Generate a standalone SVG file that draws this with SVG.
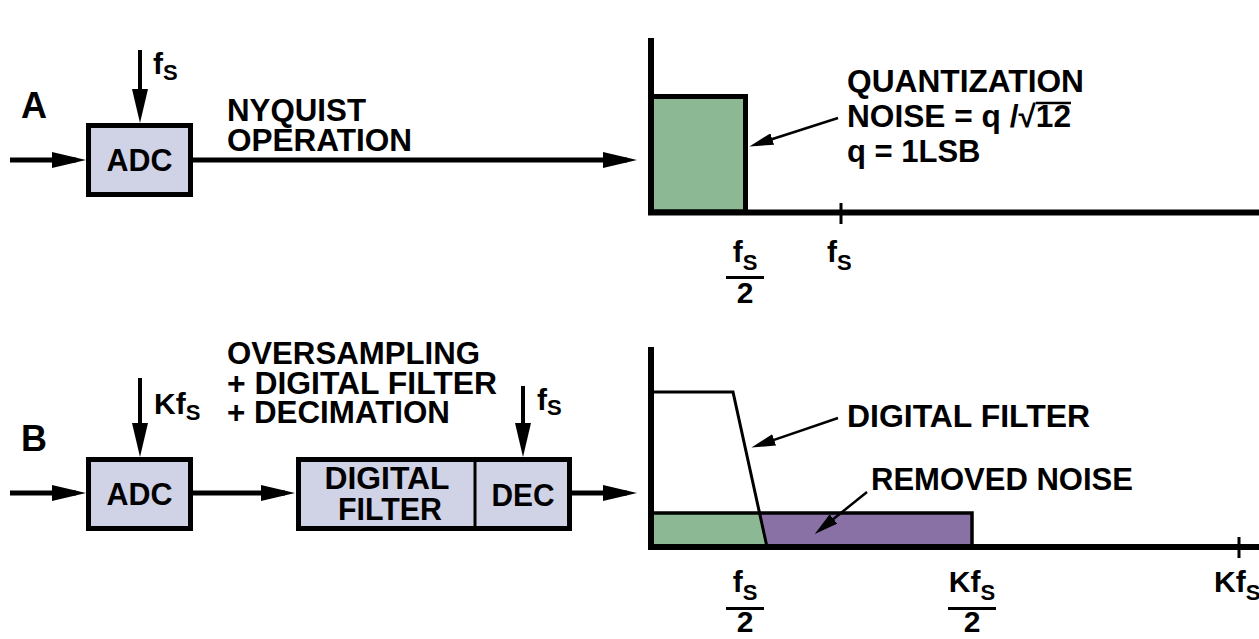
<svg xmlns="http://www.w3.org/2000/svg" width="1259" height="639" viewBox="0 0 1259 639">
  <style>
    text { font-family: "Liberation Sans", Arial, Helvetica, sans-serif; font-weight: bold; fill: #000; }
    .lbl { font-size: 31px; }
    .ax { font-size: 30px; }
    .big { font-size: 36px; }
    .sub { font-size: 22px; }
    .box { fill: #d0d2e6; stroke: #000; stroke-width: 5; }
    .wire { stroke: #000; stroke-width: 5; fill: none; }
    .clk { stroke: #000; stroke-width: 4; fill: none; }
    .axis { stroke: #000; stroke-width: 6; fill: none; }
    .thin { stroke: #000; stroke-width: 2.5; fill: none; }
    .tick { stroke: #000; stroke-width: 3; fill: none; }
    .frac { stroke: #000; stroke-width: 3; }
    .noise { fill: #8cb993; }
    .removed { fill: #8a71a5; }
  </style>
  <defs>
    <marker id="bigHead" viewBox="0 0 34 16" refX="24" refY="8" markerWidth="34" markerHeight="16" markerUnits="userSpaceOnUse" orient="auto">
      <path d="M0,0 L34,8 L0,16 Z" fill="#000"/>
    </marker>
    <marker id="smallHead" viewBox="0 0 24 12" refX="16" refY="6" markerWidth="24" markerHeight="12" markerUnits="userSpaceOnUse" orient="auto">
      <path d="M0,0 L24,6 L0,12 Z" fill="#000"/>
    </marker>
  </defs>

  <!-- ===== A: Nyquist operation ===== -->
  <text class="big" x="21" y="118">A</text>

  <g id="adcA">
    <rect class="box" x="88.5" y="125.5" width="102" height="69"/>
    <text class="lbl" x="139.5" y="171" text-anchor="middle" textLength="66" lengthAdjust="spacingAndGlyphs">ADC</text>
  </g>

  <g id="clockA">
    <text class="ax" x="153" y="74">f<tspan class="sub" dy="6">S</tspan></text>
  </g>

  <g id="textA">
    <text class="lbl" x="227" y="121" textLength="139" lengthAdjust="spacingAndGlyphs">NYQUIST</text>
    <text class="lbl" x="227" y="151" textLength="185" lengthAdjust="spacingAndGlyphs">OPERATION</text>
  </g>

  <!-- spectrum A -->
  <g id="spectrumA">
    <rect class="noise" x="651" y="96.5" width="94.5" height="115.5" stroke="#000" stroke-width="5"/>
    <line class="axis" x1="651" y1="38" x2="651" y2="215"/>
    <line class="axis" x1="648" y1="212.5" x2="1259" y2="212.5"/>
    <line class="tick" x1="841" y1="203" x2="841" y2="224"/>
  </g>

  <g id="quantNote">
    <text class="lbl" x="847" y="92" textLength="237" lengthAdjust="spacingAndGlyphs">QUANTIZATION</text>
    <text class="lbl" x="847" y="127" textLength="224" lengthAdjust="spacingAndGlyphs">NOISE = q /√12</text>
    <line x1="1036" y1="103" x2="1071" y2="103" stroke="#000" stroke-width="2.5"/>
    <text class="lbl" x="847" y="162">q = 1LSB</text>
  </g>

  <g id="axisLabelsA">
    <text class="ax" x="745" y="262" text-anchor="middle">f<tspan class="sub" dy="8">S</tspan></text>
    <line class="frac" x1="726" y1="277.5" x2="764" y2="277.5"/>
    <text class="ax" x="745" y="303" text-anchor="middle">2</text>
    <text class="ax" x="827" y="262">f<tspan class="sub" dy="8">S</tspan></text>
  </g>

  <!-- ===== B: Oversampling + digital filter + decimation ===== -->
  <text class="big" x="21" y="451">B</text>

  <g id="adcB">
    <rect class="box" x="88.5" y="459.5" width="102" height="69"/>
    <text class="lbl" x="139.5" y="505" text-anchor="middle" textLength="66" lengthAdjust="spacingAndGlyphs">ADC</text>
  </g>

  <g id="clockB">
    <text class="ax" x="154" y="414">Kf<tspan class="sub" dy="6">S</tspan></text>
  </g>

  <g id="filterDec">
    <rect class="box" x="298.5" y="459.5" width="271" height="69"/>
    <line x1="475" y1="459.5" x2="475" y2="528.5" stroke="#000" stroke-width="3"/>
    <text class="lbl" x="387" y="489" text-anchor="middle" textLength="125" lengthAdjust="spacingAndGlyphs">DIGITAL</text>
    <text class="lbl" x="390" y="520" text-anchor="middle" textLength="104" lengthAdjust="spacingAndGlyphs">FILTER</text>
    <text class="lbl" x="523" y="506" text-anchor="middle" textLength="63" lengthAdjust="spacingAndGlyphs">DEC</text>
  </g>

  <g id="clockDec">
    <text class="ax" x="537" y="410">f<tspan class="sub" dy="5">S</tspan></text>
  </g>

  <g id="textB">
    <text class="lbl" x="227" y="364" textLength="253" lengthAdjust="spacingAndGlyphs">OVERSAMPLING</text>
    <text class="lbl" x="227" y="394" textLength="270" lengthAdjust="spacingAndGlyphs">+ DIGITAL FILTER</text>
    <text class="lbl" x="227" y="423" textLength="223" lengthAdjust="spacingAndGlyphs">+ DECIMATION</text>
  </g>

  <!-- spectrum B -->
  <g id="spectrumB">
    <polygon class="noise" points="651,513 759.5,513 767,547 651,547"/>
    <polygon class="removed" points="759.5,513 972,513 972,547 767,547"/>
    <polyline points="651,513 972,513 972,547" fill="none" stroke="#000" stroke-width="3.5"/>
    <polyline points="651,392 733,392 767,547" fill="none" stroke="#000" stroke-width="3"/>
    <line class="axis" x1="651" y1="347" x2="651" y2="550"/>
    <line class="axis" x1="648" y1="547" x2="1259" y2="547"/>
    <line class="tick" x1="1239" y1="537" x2="1239" y2="558"/>
  </g>

  <g id="filterNote">
    <text class="lbl" x="847" y="427" textLength="243" lengthAdjust="spacingAndGlyphs">DIGITAL FILTER</text>
  </g>
  <g id="removedNote">
    <text class="lbl" x="871" y="490" textLength="262" lengthAdjust="spacingAndGlyphs">REMOVED NOISE</text>
  </g>

  <g id="axisLabelsB">
    <text class="ax" x="745" y="592" text-anchor="middle">f<tspan class="sub" dy="8">S</tspan></text>
    <line class="frac" x1="726" y1="608.5" x2="764" y2="608.5"/>
    <text class="ax" x="745" y="632" text-anchor="middle">2</text>
    <text class="ax" x="972" y="592" text-anchor="middle">Kf<tspan class="sub" dy="8">S</tspan></text>
    <line class="frac" x1="948" y1="608.5" x2="996" y2="608.5"/>
    <text class="ax" x="972" y="632" text-anchor="middle">2</text>
    <text class="ax" x="1214" y="592">Kf<tspan class="sub" dy="8">S</tspan></text>
  </g>

  <!-- connectors -->
  <g id="connectors">
    <line class="wire" x1="10" y1="160" x2="76" y2="160" marker-end="url(#bigHead)"/>
    <line class="clk" x1="140" y1="50" x2="140" y2="113" marker-end="url(#bigHead)"/>
    <line class="wire" x1="190" y1="160" x2="627" y2="160" marker-end="url(#bigHead)"/>
    <line class="thin" x1="838" y1="118" x2="757" y2="144" marker-end="url(#smallHead)"/>

    <line class="wire" x1="10" y1="493" x2="76" y2="493" marker-end="url(#bigHead)"/>
    <line class="clk" x1="140" y1="378" x2="140" y2="447" marker-end="url(#bigHead)"/>
    <line class="wire" x1="190" y1="493" x2="285" y2="493" marker-end="url(#bigHead)"/>
    <line class="clk" x1="523" y1="386" x2="523" y2="447" marker-end="url(#bigHead)"/>
    <line class="wire" x1="569" y1="493" x2="627" y2="493" marker-end="url(#bigHead)"/>
    <line class="thin" x1="838" y1="418" x2="759" y2="445" marker-end="url(#smallHead)"/>
    <line class="thin" x1="867" y1="492" x2="821" y2="529" marker-end="url(#smallHead)"/>
  </g>
</svg>
